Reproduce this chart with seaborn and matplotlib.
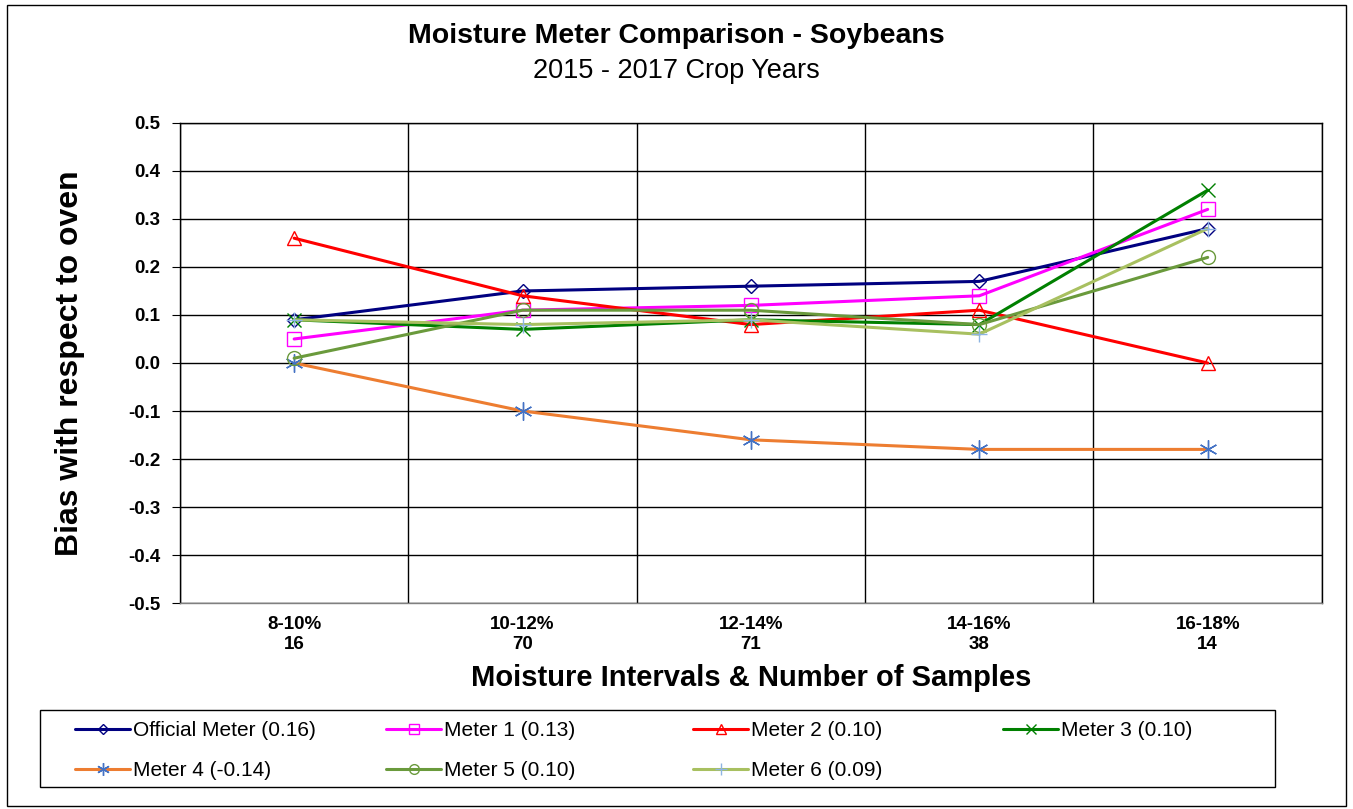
import matplotlib.pyplot as plt
import matplotlib.patches as mpatches
import seaborn as sns
import pandas as pd

# data
intervals = ['8-10%\n16', '10-12%\n70', '12-14%\n71', '14-16%\n38', '16-18%\n14']
official = [0.09, 0.15, 0.16, 0.17, 0.28]
meter1 = [0.05, 0.11, 0.12, 0.14, 0.32]
meter2 = [0.26, 0.14, 0.08, 0.11, 0.00]
meter3 = [0.09, 0.07, 0.09, 0.08, 0.36]
meter4 = [0.00, -0.10, -0.16, -0.18, -0.18]
meter5 = [0.01, 0.11, 0.11, 0.08, 0.22]
meter6 = [0.09, 0.08, 0.09, 0.06, 0.28]
names = ['Official Meter (0.16)', 'Meter 1 (0.13)', 'Meter 2 (0.10)', 'Meter 3 (0.10)',
         'Meter 4 (-0.14)', 'Meter 5 (0.10)', 'Meter 6 (0.09)']

sns.set_style('white')
plt.rcParams['font.family'] = ['Liberation Sans', 'DejaVu Sans']
plt.rcParams['text.color'] = 'black'
plt.rcParams['axes.labelcolor'] = 'black'
plt.rcParams['xtick.color'] = 'black'
plt.rcParams['ytick.color'] = 'black'

series = [official, meter1, meter2, meter3, meter4, meter5, meter6]
# (line colour, marker, marker colour, marker size)
styles = [('#000080', 'D', '#000080', 7),
          ('#FF00FF', 's', '#FF00FF', 10),
          ('#FF0000', '^', '#FF0000', 10),
          ('#008000', 'x', '#008000', 10),
          ('#ED7D31', (6, 2, 0), '#4472C4', 13),
          ('#6A9A3C', 'o', '#6A9A3C', 10),
          ('#A8C060', '+', '#8DB4E2', 12)]

pos = list(range(len(intervals)))
fig = plt.figure(figsize=(13.53, 8.09), dpi=100)
ax = fig.add_axes([0.133, 0.2546, 0.844, 0.5934])

for name, vals, (lc, mk, mc, ms) in zip(names, series, styles):
    df = pd.DataFrame({'x': pos, 'y': vals})
    sns.lineplot(data=df, x='x', y='y', color=lc, linewidth=2.2, ax=ax,
                 marker=mk, markersize=ms, markerfacecolor='none',
                 markeredgecolor=mc, markeredgewidth=1.0, label=name)

ax.set_xlim(-0.5, 4.5)
ax.set_ylim(-0.5, 0.5)
ax.set_yticks([i / 10 for i in range(-5, 6)])
ax.set_yticklabels(['%.1f' % (i / 10) for i in range(-5, 6)], fontsize=13.5, fontweight='bold')
ax.set_xticks(pos)
ax.set_xticklabels(intervals, fontsize=13.5, fontweight='bold', linespacing=1.3)
ax.set_xticks([-0.5, 0.5, 1.5, 2.5, 3.5, 4.5], minor=True)
ax.tick_params(axis='x', which='major', length=0, pad=9)
ax.tick_params(axis='x', which='minor', length=5, color='#808080')
ax.tick_params(axis='y', length=6, direction='out', left=True, color='black', pad=8)
ax.grid(axis='y', which='major', color='black', linewidth=1)
ax.grid(axis='x', which='minor', color='black', linewidth=1)
ax.set_axisbelow(True)
for s in ax.spines.values():
    s.set_color('black')
    s.set_linewidth(1)
ax.spines['bottom'].set_color('#808080')
ax.set_xlabel('')
ax.set_ylabel('')

fig.text(70 / 1353, 0.2546 + 0.5934 / 2, 'Bias with respect to oven', rotation=90,
         ha='center', va='center', fontsize=23, fontweight='bold')
fig.text(0.133 + 0.844 / 2, 0.162, 'Moisture Intervals & Number of Samples',
         ha='center', va='center', fontsize=21, fontweight='bold')

fig.text(0.5, 0.955, 'Moisture Meter Comparison - Soybeans', ha='center', va='center',
         fontsize=20.5, fontweight='bold')
fig.text(0.5, 0.912, '2015 - 2017 Crop Years', ha='center', va='center', fontsize=19.5)

# legend laid out in rows like the original, one legend per column
h, l = ax.get_legend_handles_labels()
ax.get_legend().remove()
columns = [[0, 4], [1, 5], [2, 6], [3]]
col_x = [75, 386, 693, 1003]
for idx, x in zip(columns, col_x):
    fig.legend([h[i] for i in idx], [l[i] for i in idx], ncol=1,
               loc='upper left', bbox_to_anchor=(x / 1353, 1 - 721 / 809),
               fontsize=15, frameon=False, handlelength=2.65, handletextpad=0.15,
               borderaxespad=0, borderpad=0, labelspacing=1.0, markerscale=0.7)
fig.patches.append(mpatches.Rectangle((40 / 1353, 22 / 809), 1235 / 1353, 77 / 809,
                                      transform=fig.transFigure, fill=False,
                                      edgecolor='black', linewidth=1))

fig.patches.append(mpatches.Rectangle((0.005, 0.004), 0.99, 0.99, transform=fig.transFigure,
                                      fill=False, edgecolor='black', linewidth=1))

fig.savefig('out.png', dpi=100)
